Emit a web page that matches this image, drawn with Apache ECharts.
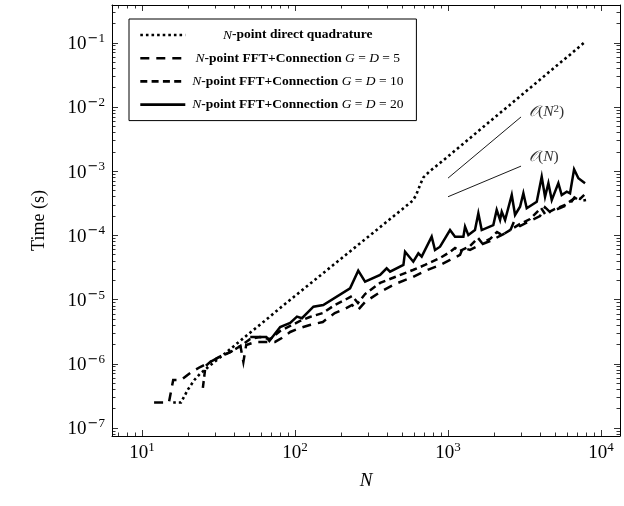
<!DOCTYPE html>
<html><head><meta charset="utf-8">
<script src="https://cdn.jsdelivr.net/npm/echarts@6/dist/echarts.min.js"></script>
<style>html,body{margin:0;padding:0;background:#fff}#c{width:624px;height:506px}</style>
</head><body><div id="c"></div>
<script>
// ---------------- data ----------------
const seriesNames = [
  'N-point direct quadrature',
  'N-point FFT+Connection G = D = 5',
  'N-point FFT+Connection G = D = 10',
  'N-point FFT+Connection G = D = 20'
];
const directN = [16, 18, 20, 22, 24, 28, 33, 40, 50, 63, 80, 100, 130, 160, 200, 250, 320, 400, 500, 590, 620, 660, 690, 760, 890, 1000, 1260, 1600, 2000, 2500, 3200, 4000, 5000, 6300, 7800];
const directT = [2.5e-7, 2.5e-7, 4.0e-7, 5.6e-7, 7.0e-7, 9.5e-7, 1.3e-6, 1.9e-6, 2.95e-6, 4.6e-6, 7.4e-6, 1.14e-5, 1.89e-5, 2.82e-5, 4.34e-5, 6.67e-5, 1.07e-4, 1.65e-4, 2.54e-4, 3.5e-4, 4.3e-4, 6.3e-4, 8.0e-4, 1.0e-3, 1.35e-3, 1.7e-3, 2.69e-3, 4.33e-3, 6.76e-3, 1.05e-2, 1.72e-2, 2.68e-2, 4.19e-2, 6.6e-2, 0.1016];

const g5N = [12, 14, 15, 16, 18, 21, 24, 28, 32, 38, 44, 46, 48, 55, 64, 74, 82, 93, 108, 125, 152, 182, 212, 236, 258, 287, 360, 451, 590, 707, 887, 1031, 1198, 1250, 1392, 1617, 1882, 2186, 2543, 2700, 2956, 3436, 3990, 4300, 4640, 5390, 6260, 6700, 7290, 7980];
const g5T = [2.5e-7, 2.5e-7, 2.5e-7, 5.6e-7, 5.6e-7, 7.4e-7, 8.9e-7, 1.07e-6, 1.28e-6, 1.53e-6, 1.89e-6, 1.07e-6, 1.96e-6, 2.19e-6, 2.19e-6, 2.19e-6, 2.52e-6, 3.13e-6, 3.61e-6, 4.02e-6, 4.48e-6, 6.18e-6, 7.14e-6, 8.24e-6, 6.9e-6, 9.18e-6, 1.31e-5, 1.75e-5, 2.25e-5, 2.79e-5, 3.46e-5, 4.14e-5, 4.96e-5, 6.4e-5, 5.93e-5, 7.08e-5, 8.18e-5, 9.8e-5, 1.17e-4, 1.65e-4, 1.40e-4, 1.68e-4, 2.0e-4, 2.75e-4, 2.31e-4, 2.67e-4, 3.08e-4, 3.9e-4, 3.44e-4, 3.56e-4];

const g10N = [25, 26, 28, 32, 38, 44, 51, 59, 69, 80, 93, 108, 125, 152, 182, 212, 236, 258, 287, 360, 451, 590, 707, 887, 1031, 1111, 1198, 1392, 1571, 1667, 1882, 2090, 2254, 2543, 2956, 3436, 4055, 4305, 5002, 5815, 6761, 7291, 7980];
const g10T = [4.2e-7, 9.2e-7, 1.07e-6, 1.28e-6, 1.53e-6, 1.89e-6, 2.43e-6, 2.61e-6, 2.43e-6, 3.24e-6, 3.88e-6, 4.65e-6, 5.36e-6, 6.18e-6, 8.24e-6, 9.86e-6, 1.14e-5, 8.85e-6, 1.22e-5, 1.82e-5, 2.25e-5, 2.89e-5, 3.46e-5, 4.45e-5, 5.51e-5, 6.37e-5, 5.71e-5, 6.84e-5, 9.12e-5, 7.62e-5, 8.79e-5, 1.13e-4, 1.01e-4, 1.21e-4, 1.51e-4, 1.80e-4, 2.67e-4, 2.15e-4, 2.58e-4, 2.98e-4, 3.83e-4, 3.69e-4, 4.57e-4];

const g20N = [51, 65, 68, 80, 93, 103, 111, 132, 153, 229, 259, 287, 360, 397, 418, 511, 524, 593, 640, 673, 782, 822, 887, 1031, 1111, 1260, 1292, 1358, 1500, 1578, 1660, 1977, 2080, 2188, 2244, 2360, 2609, 2742, 2956, 3107, 3268, 3800, 4095, 4305, 4528, 4764, 5004, 5260, 5533, 5970, 6270, 6665, 7110, 7860];
const g20T = [2.61e-6, 2.61e-6, 2.26e-6, 3.74e-6, 4.33e-6, 5.42e-6, 5.12e-6, 7.75e-6, 8.24e-6, 1.50e-5, 2.82e-5, 1.90e-5, 2.42e-5, 3.07e-5, 2.72e-5, 3.46e-5, 5.57e-5, 3.89e-5, 5.26e-5, 4.66e-5, 9.55e-5, 5.93e-5, 6.67e-5, 1.21e-4, 9.55e-5, 9.55e-5, 1.37e-4, 1.01e-4, 1.21e-4, 2.21e-4, 1.21e-4, 1.45e-4, 2.49e-4, 1.74e-4, 2.34e-4, 1.74e-4, 4.26e-4, 2.08e-4, 2.80e-4, 4.53e-4, 2.64e-4, 3.35e-4, 8.2e-4, 4.0e-4, 6.5e-4, 3.56e-4, 4.8e-4, 6.5e-4, 4.26e-4, 4.8e-4, 4.53e-4, 1.07e-3, 7.75e-4, 6.5e-4];

// reference slopes
const refN = [1000, 3000];
const refN2T = [7.8e-4, 7.0e-3];
const refN1T = [4.0e-4, 1.2e-3];

// axes
const xMin = 6.37, xMax = 13300;
const yMin = 7.5e-8, yMax = 0.388;
const xTickValues = [10, 100, 1000, 10000];
const yTickValues = [1e-7, 1e-6, 1e-5, 1e-4, 1e-3, 1e-2, 1e-1];
const xLabelName = 'N';
const yLabelName = 'Time (s)';

// ---------------- chart ----------------
const F = '"Liberation Serif","Times New Roman",serif';
function minorTicks(lo, hi) {
  const out = [];
  for (let e = Math.floor(Math.log10(lo)) - 1; e <= Math.ceil(Math.log10(hi)); e++) {
    for (let m = 2; m <= 9; m++) {
      const v = m * Math.pow(10, e);
      if (v > lo && v < hi) out.push(v);
    }
  }
  return out;
}
const xMinor = minorTicks(xMin, xMax);
const yMinor = minorTicks(yMin, yMax);

function pairs(xs, ys) { return xs.map((x, i) => [x, ys[i]]); }

function powLabel(v) {
  const e = Math.round(Math.log10(v));
  return e < 0 ? '{b|10}{mn|\u2212}{s|' + (-e) + '}' : '{b|10}{s|' + e + '}';
}
const labRich = {
  b: { fontFamily: F, fontSize: 19, color: '#000', lineHeight: 22, verticalAlign: 'bottom' },
  mn: { fontFamily: '"DejaVu Sans",sans-serif', fontSize: 13, color: '#000', lineHeight: 13, verticalAlign: 'top', padding: [0, 0, 0, 1] },
  s: { fontFamily: F, fontSize: 13, color: '#000', lineHeight: 13, verticalAlign: 'top' }
};
const tickStyle = { color: '#000', width: 0.8 };
const lineSt = { show: true, onZero: false, lineStyle: { color: '#000', width: 1 } };

function axis(kind, pos, major, extra) {
  const isX = kind === 'x';
  const base = {
    type: 'log', logBase: 10,
    min: isX ? xMin : yMin, max: isX ? xMax : yMax,
    position: pos,
    splitLine: { show: false }, minorTick: { show: false },
    axisLine: major ? lineSt : { show: false },
    axisTick: {
      show: true, inside: true, length: major ? 6 : 3.5, lineStyle: tickStyle,
      customValues: major ? (isX ? xTickValues : yTickValues) : (isX ? xMinor : yMinor)
    },
    axisLabel: { show: false },
    silent: true
  };
  return Object.assign(base, extra || {});
}

const xAxes = [
  axis('x', 'bottom', true, {
    axisLabel: { show: true, customValues: xTickValues, formatter: powLabel, rich: labRich, margin: 5 },
    name: xLabelName, nameLocation: 'middle', nameGap: 35,
    nameTextStyle: { fontFamily: F, fontStyle: 'italic', fontSize: 19, color: '#000' }
  }),
  axis('x', 'bottom', false),
  axis('x', 'top', true),
  axis('x', 'top', false)
];
const yAxes = [
  axis('y', 'left', true, {
    axisLabel: { show: true, customValues: yTickValues, formatter: powLabel, rich: labRich, margin: 7 },
    name: yLabelName, nameLocation: 'middle', nameGap: 64,
    nameTextStyle: { fontFamily: F, fontSize: 18, color: '#000' }
  }),
  axis('y', 'left', false),
  axis('y', 'right', true),
  axis('y', 'right', false)
];

const legendRich = [
  '{i|N}{b|-point direct quadrature}',
  '{i|N}{b|-point FFT+Connection }{i|G}{m| = }{i|D}{m| = 5}',
  '{i|N}{b|-point FFT+Connection }{i|G}{m| = }{i|D}{m| = 10}',
  '{i|N}{b|-point FFT+Connection }{i|G}{m| = }{i|D}{m| = 20}'
];

function lineSeries(name, data, width, type) {
  return {
    name: name, type: 'line', data: data, xAxisIndex: 0, yAxisIndex: 0,
    symbol: 'none', showSymbol: false, smooth: false, clip: true, silent: true,
    lineStyle: { color: '#000', width: width, type: type, cap: 'butt', join: 'miter', miterLimit: 10 },
    itemStyle: { color: '#000' },
    animation: false
  };
}

function refSeries(name, ys, text, offY) {
  return {
    name: name, type: 'line', xAxisIndex: 0, yAxisIndex: 0, symbol: 'none', silent: true, animation: false,
    lineStyle: { color: '#000', width: 0.9 },
    data: pairs(refN, ys),
    endLabel: {
      show: true, distance: 8, offset: [0, offY],
      formatter: text, color: '#333',
      rich: {
        o: { fontFamily: '"DejaVu Serif","DejaVu Sans","Noto Sans",serif', fontStyle: 'italic', fontSize: 15, color: '#333' },
        r: { fontFamily: F, fontSize: 15.5, color: '#333' },
        i: { fontFamily: F, fontStyle: 'italic', fontSize: 15.5, color: '#333' },
        s: { fontFamily: F, fontSize: 11, color: '#333', verticalAlign: 'top', lineHeight: 11 }
      }
    }
  };
}

const chart = echarts.init(document.getElementById('c'), null, { renderer: 'canvas' });
chart.setOption({
  animation: false,
  backgroundColor: '#fff',
  grid: { left: 112, right: 4, top: 5, bottom: 70, containLabel: false, outerBoundsMode: 'none' },
  xAxis: xAxes,
  yAxis: yAxes,
  legend: {
    data: seriesNames,
    orient: 'vertical', left: 129, top: 19,
    padding: [9, 13, 9, 10], itemGap: 9.2, itemWidth: 45, itemHeight: 15,
    borderColor: '#000', borderWidth: 1, backgroundColor: '#fff',
    selectedMode: false,
    lineStyle: { width: 2.6 },
    itemStyle: { opacity: 0 },
    formatter: function (name) { return legendRich[seriesNames.indexOf(name)]; },
    textStyle: {
      width: 215, fontFamily: F, fontSize: 13.5, color: '#000',
      rich: {
        b: { fontFamily: F, fontSize: 13.5, fontWeight: 'bold', color: '#000', align: 'center', lineHeight: 15 },
        i: { fontFamily: F, fontSize: 13.5, fontStyle: 'italic', color: '#000', align: 'center', lineHeight: 15 },
        m: { fontFamily: F, fontSize: 13.5, color: '#000', align: 'center', lineHeight: 15 }
      }
    }
  },
  series: [
    lineSeries(seriesNames[0], pairs(directN, directT), 2.6, [2.6, 3.0]),
    lineSeries(seriesNames[1], pairs(g5N, g5T), 2.5, [9, 7]),
    lineSeries(seriesNames[2], pairs(g10N, g10T), 2.5, [7, 4.3]),
    lineSeries(seriesNames[3], pairs(g20N, g20T), 2.5, 'solid'),
    refSeries('refN2', refN2T, '{o|\uD835\uDCAA}{r|(}{i|N}{s|2}{r|)}', -5),
    refSeries('refN1', refN1T, '{o|\uD835\uDCAA}{r|(}{i|N}{r|)}', -9)
  ]
});
</script>
</body></html>
